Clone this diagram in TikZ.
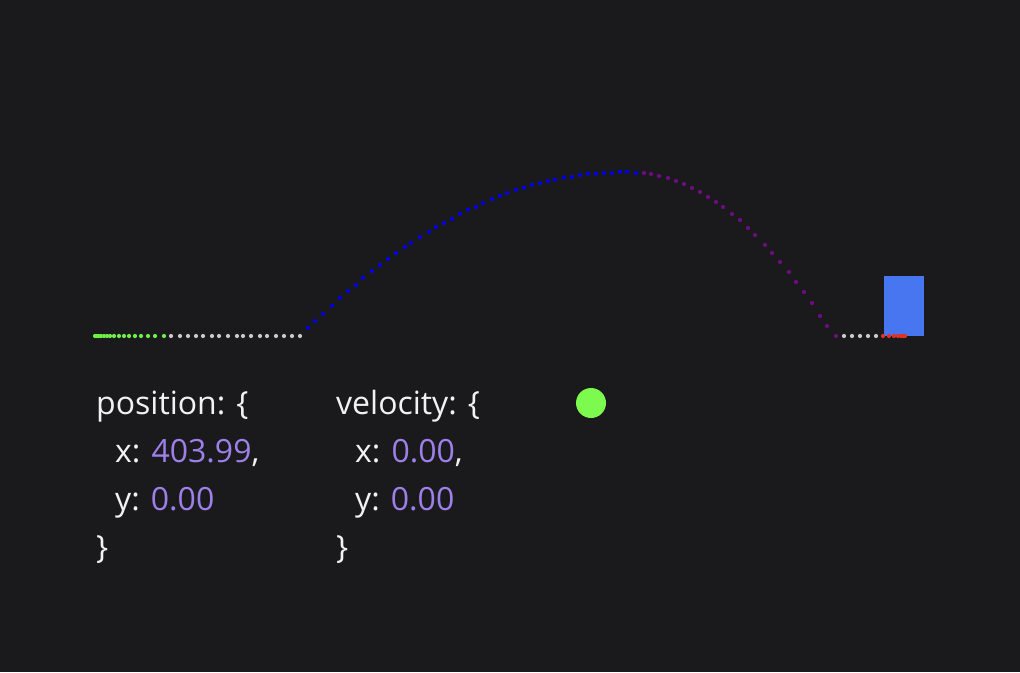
\documentclass[tikz,border=0pt]{standalone}
\usepackage{fontspec}
\setmainfont{Open Sans}
\usepackage{xcolor}
\definecolor{bgdark}{RGB}{26,26,28}
\definecolor{trailgreen}{RGB}{112,236,72}
\definecolor{ballgreen}{RGB}{124,250,78}
\definecolor{trailgray}{RGB}{200,200,202}
\definecolor{trailblue}{RGB}{0,0,232}
\definecolor{trailpurple}{RGB}{108,12,128}
\definecolor{trailred}{RGB}{226,50,36}
\definecolor{boxblue}{RGB}{72,118,240}
\definecolor{textwhite}{RGB}{242,242,242}
\definecolor{numpurple}{RGB}{158,128,234}
\newcommand{\numval}[1]{\textcolor{numpurple}{#1}}

\begin{document}
\begin{tikzpicture}[
  x=1pt, y=-1pt,
  dot/.style={radius=2.1},
  codeline/.style={anchor=base west, inner sep=0pt, text=textwhite,
    font=\fontsize{32}{38}\selectfont},
]
  \useasboundingbox[fill=bgdark] (0,0) rectangle (1020,672);

  % ground trail: start
  \foreach \x in {95,97,99,101,104,107,110,114,119,124,129,135,141,148,155,164}
    \fill[trailgreen] (\x,336) circle[dot];
  \foreach \x in {171,180,188,196,203,212,219,228,237,243,251,260,267,276,284,292,300}
    \fill[trailgray] (\x,336) circle[dot];

  % jump: rising part
  \foreach \x/\y in {308/327.7,315/321,323/313.7,332/305.7,340/297.7,348/291,
      356/285,363/277.7,372/271,380/265,388/259,396/253,405/247,411/243,
      420/237,429/231.7,436/227,444/223,452/219,460/213.7,468/209.7,476/207,
      483/203,492/199,500/195.7,507/193,516/189.7,524/187.7,532/185,540/183,
      548/181,555/179.7,564/177.7,572/177,580/175,588/173.7,596/173.7,
      604/173,612/173,620/171.7,627/171.7,636/173}
    \fill[trailblue] (\x,\y) circle[dot];

  % jump: falling part
  \foreach \x/\y in {644/173,651/174,659/176,668/178,676/181,684/184,692/188,
      700/192,708/197,716/202,723/207,732/214,740/220,748/228,755/235,
      765/245,772/253,780/262,789/272,796/282,804/292,812/303,820/316,
      827/326,836/336}
    \fill[trailpurple] (\x,\y) circle[dot];

  % ground trail: end
  \foreach \x in {844,852,860,868,876}
    \fill[trailgray] (\x,336) circle[dot];

  % player box
  \fill[boxblue] (884,276) rectangle (924,336);
  \foreach \x in {883,889,894,898,901,903,905}
    \fill[trailred] (\x,336) circle[dot];

  % state readout
  \node[codeline] (posopen) at (96,414) {position: \{};
  \node[codeline] (posx)    at (115,462) {x: \numval{403.99},};
  \node[codeline] (posy)    at (115,510) {y: \numval{0.00}};
  \node[codeline] (posclose) at (96,558) {\}};

  \node[codeline] (velopen) at (336,414) {velocity: \{};
  \node[codeline] (velx)    at (355,462) {x: \numval{0.00},};
  \node[codeline] (vely)    at (355,510) {y: \numval{0.00}};
  \node[codeline] (velclose) at (336,558) {\}};

  % grounded indicator
  \fill[ballgreen] (591,403) circle[radius=15];
\end{tikzpicture}
\end{document}
